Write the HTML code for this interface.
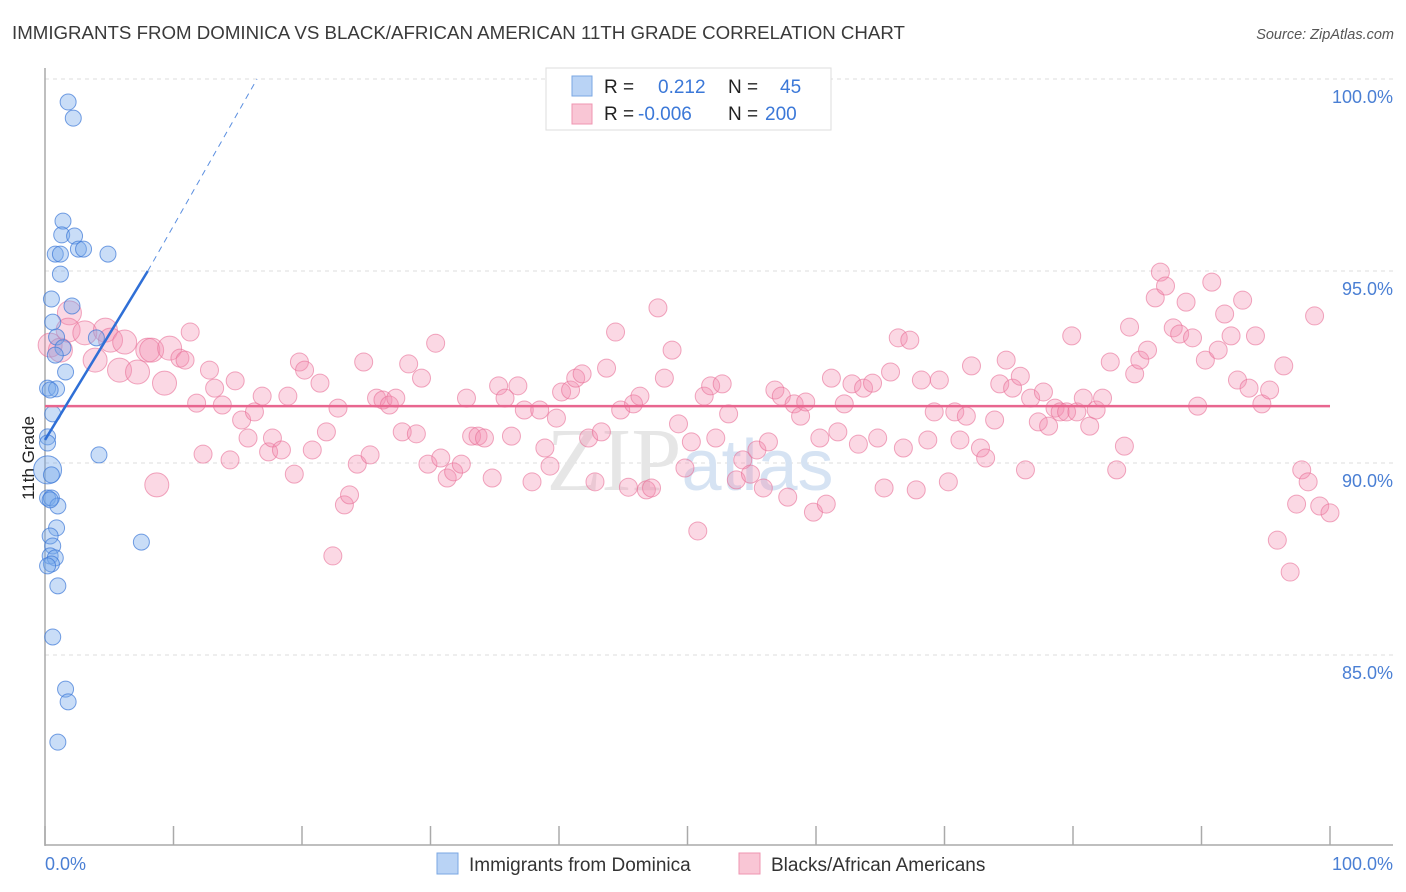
<!DOCTYPE html>
<html><head><meta charset="utf-8"><style>
body{margin:0;background:#fff;font-family:"Liberation Sans",sans-serif;}
#wrap{position:relative;width:1406px;height:892px;overflow:hidden;}
</style></head><body>
<div id="wrap">
<svg id="svg" width="1406" height="892" xmlns="http://www.w3.org/2000/svg">
<text x="12" y="39" font-size="18.7" fill="#3a3a3a">IMMIGRANTS FROM DOMINICA VS BLACK/AFRICAN AMERICAN 11TH GRADE CORRELATION CHART</text>
<text x="1394" y="39" font-size="14.5" fill="#555" text-anchor="end" font-style="italic">Source: ZipAtlas.com</text>
<text x="34" y="458" font-size="17" fill="#222" text-anchor="middle" transform="rotate(-90 34 458)">11th Grade</text>
<g id="grid"></g>
<text x="690" y="490" font-size="90" fill="#e6e6e6" text-anchor="middle" font-family="Liberation Serif,serif">ZIP<tspan fill="#d6e3f3" font-family="Liberation Sans,sans-serif" font-size="72">atlas</tspan></text>
<g id="marks"></g>
<g id="lines"></g>
<g>
<rect x="546" y="68" width="285" height="62" fill="#fff" stroke="#ddd"/>
<rect x="572" y="76" width="20" height="20" fill="#b9d3f5" stroke="#7aa7e3"/>
<rect x="572" y="104" width="20" height="20" fill="#f9c6d5" stroke="#ef95b1"/>
<text x="604" y="93" font-size="19" fill="#222">R = <tspan x="658" fill="#3b78d8">0.212</tspan><tspan x="728" fill="#222">N = </tspan><tspan x="780" fill="#3b78d8">45</tspan></text>
<text x="604" y="120" font-size="19" fill="#222">R = <tspan x="638" fill="#3b78d8">-0.006</tspan><tspan x="728" fill="#222">N = </tspan><tspan x="765" fill="#3b78d8">200</tspan></text>
</g>
<g>
<rect x="437" y="853" width="21" height="21" fill="#b9d3f5" stroke="#7aa7e3"/>
<text x="469" y="871" font-size="19" fill="#333">Immigrants from Dominica</text>
<rect x="739" y="853" width="21" height="21" fill="#f9c6d5" stroke="#ef95b1"/>
<text x="771" y="871" font-size="19" fill="#333">Blacks/African Americans</text>
</g>
<text x="45" y="870" font-size="18" fill="#4a7fd4">0.0%</text>
<text x="1393" y="870" font-size="18" fill="#4a7fd4" text-anchor="end">100.0%</text>
</svg>
</div>
<script>
const yTicks=[100,95,90,85];
const yTickLabels=["100.0%","95.0%","90.0%","85.0%"];
const blueX=[1.8,2.2,1.4,1.3,2.3,2.6,3.0,0.8,1.2,4.9,1.2,0.5,2.1,0.6,0.9,4.0,1.4,0.8,1.6,0.2,0.9,0.4,0.6,0.2,0.2,4.2,0.2,0.5,0.2,0.5,1.0,0.9,0.4,0.6,0.4,0.8,0.5,0.2,1.0,7.5,0.6,1.6,1.8,1.0,0.4];
const blueY=[99.40,98.98,96.30,95.94,95.91,95.57,95.57,95.44,95.44,95.44,94.92,94.27,94.09,93.67,93.28,93.26,93.00,92.81,92.37,91.95,91.93,91.90,91.28,90.68,90.52,90.21,89.82,89.69,89.09,89.09,88.88,88.31,88.10,87.84,87.58,87.53,87.37,87.32,86.80,87.94,85.47,84.11,83.78,82.73,89.04];
const pinkX=[0.4,1.2,1.9,1.8,3.1,3.9,4.7,5.1,5.8,6.2,7.2,8.0,8.3,9.3,9.7,10.5,10.9,11.3,8.7,11.8,12.3,12.8,13.2,13.8,14.4,14.8,15.3,15.8,16.3,16.9,17.4,17.7,18.4,18.9,19.4,19.8,20.2,20.8,21.4,21.9,22.8,23.3,23.7,22.4,24.3,24.8,25.3,25.8,26.3,26.8,27.3,27.8,28.3,28.9,29.3,29.8,30.4,30.8,31.3,31.8,32.4,32.8,33.2,33.7,34.2,34.8,35.3,35.8,36.3,36.8,37.3,37.9,38.5,38.9,39.3,39.8,40.2,40.9,41.3,41.8,42.3,42.8,43.3,43.7,44.4,44.8,45.4,45.8,46.3,46.8,47.2,47.7,48.2,48.8,49.3,49.8,50.3,50.8,51.3,51.8,52.2,52.7,53.2,53.8,54.3,54.9,55.4,55.9,56.3,56.8,57.3,57.8,58.3,58.8,59.2,59.8,60.3,60.8,61.2,61.7,62.2,62.8,63.3,63.7,64.4,64.8,65.3,65.8,66.4,66.8,67.3,67.8,68.2,68.7,69.2,69.6,70.3,70.8,71.2,71.7,72.1,72.8,73.2,73.9,74.3,74.8,75.3,75.9,76.3,76.7,77.3,77.7,78.1,78.6,79.0,79.5,79.9,80.3,80.8,81.3,81.8,82.3,82.9,83.4,84.0,84.4,84.8,85.2,85.8,86.4,86.8,87.2,87.8,88.3,88.8,89.3,89.7,90.3,90.8,91.3,91.8,92.3,92.8,93.2,93.7,94.2,94.7,95.3,95.9,96.4,96.9,97.4,97.8,98.3,98.8,99.2,100];
const pinkY=[93.07,92.94,93.91,93.46,93.39,92.68,93.46,93.20,92.42,93.15,92.37,92.94,92.94,92.08,92.99,92.73,92.68,93.41,89.43,91.56,90.23,92.42,91.95,91.51,90.08,92.14,91.12,90.65,91.33,91.74,90.29,90.65,90.34,91.74,89.71,92.63,92.42,90.34,92.08,90.81,91.43,88.91,89.17,87.58,89.97,92.63,90.21,91.69,91.64,91.51,91.69,90.81,92.58,90.76,92.21,89.97,93.12,90.13,89.61,89.77,89.97,91.69,90.70,90.70,90.65,89.61,92.01,91.69,90.70,92.01,91.38,89.51,91.38,90.39,89.92,91.17,91.85,91.90,92.21,92.32,90.65,89.51,90.81,92.47,93.41,91.38,89.37,91.54,91.74,89.30,89.35,94.04,92.21,92.94,91.02,89.87,90.55,88.23,91.74,92.01,90.65,92.06,91.28,89.56,90.08,89.71,90.34,89.35,90.55,91.90,91.74,89.11,91.54,91.22,91.59,88.72,90.65,88.93,92.21,90.81,91.54,92.06,90.49,91.95,92.08,90.65,89.35,92.37,93.26,90.39,93.20,89.30,92.16,90.60,91.33,92.16,89.51,91.33,90.60,91.22,92.53,90.39,90.13,91.12,92.06,92.68,91.95,92.26,89.82,91.69,91.07,91.85,90.96,91.43,91.33,91.33,93.31,91.33,91.69,90.96,91.38,91.69,92.63,89.82,90.44,93.54,92.32,92.68,92.94,94.30,94.97,94.61,93.52,93.36,94.19,93.26,91.48,92.68,94.71,92.94,93.88,93.31,92.16,94.24,91.95,93.31,91.54,91.90,87.99,92.53,87.16,88.93,89.82,89.51,93.83,88.88,88.7];
const trendBlue=[[0,90.6],[8,95.0],[16.5,100]];
const trendPinkY=91.48;

const NS="http://www.w3.org/2000/svg";
const X=v=>45+v*12.85;
const Y=v=>79+(100-v)*38.4;
function mk(tag,attrs,parent){const e=document.createElementNS(NS,tag);for(const k in attrs)e.setAttribute(k,attrs[k]);parent.appendChild(e);return e;}
const grid=document.getElementById('grid'),marks=document.getElementById('marks'),lines=document.getElementById('lines');
yTicks.forEach((t,i)=>{
  const l=mk('line',{x1:45,x2:1393,y1:Y(t),y2:Y(t),stroke:'#dcdcdc','stroke-dasharray':'4 4'},grid);
  
  
  const tx=mk('text',{x:1393,y:Y(t)+24,'font-size':18,fill:'#4a7fd4','text-anchor':'end'},grid);
  tx.textContent=yTickLabels[i];
  
  
});
const ax=mk('line',{x1:45,x2:45,y1:68,y2:846,stroke:'#aaa','stroke-width':1.5},grid);


const bx=mk('line',{x1:45,x2:1393,y1:845,y2:845,stroke:'#aaa','stroke-width':1.5},grid);


for(let i=0;i<=10;i++){
  const t=mk('line',{x1:X(i*10),x2:X(i*10),y1:826,y2:845,stroke:'#aaa','stroke-width':1.5},grid);
  
  
}
const n=Math.min(pinkX.length,pinkY.length);
for(let i=0;i<n;i++){
  const x=pinkX[i];
  const c=mk('circle',{cx:X(x),cy:Y(pinkY[i]),r:x<10?12:9,fill:'rgba(244,143,177,0.35)',stroke:'rgba(232,110,150,0.6)','stroke-width':1},marks);
  
  
}
blueX.forEach((x,i)=>{
  const c=mk('circle',{cx:X(x),cy:Y(blueY[i]),r:blueY[i]>89.7&&blueY[i]<89.9?14:8,fill:'rgba(120,170,235,0.4)',stroke:'rgba(60,120,215,0.7)','stroke-width':1},marks);
  
  
});
const pl=mk('line',{x1:X(0),x2:X(100),y1:Y(trendPinkY),y2:Y(trendPinkY),stroke:'#e8668f','stroke-width':2.5},lines);


const b1=mk('line',{x1:X(trendBlue[0][0]),y1:Y(trendBlue[0][1]),x2:X(trendBlue[1][0]),y2:Y(trendBlue[1][1]),stroke:'#2f6fd6','stroke-width':2.5},lines);


const b2=mk('line',{x1:X(trendBlue[1][0]),y1:Y(trendBlue[1][1]),x2:X(trendBlue[2][0]),y2:Y(trendBlue[2][1]),stroke:'#5b8fe0','stroke-width':1,'stroke-dasharray':'6 5'},lines);


</script>
</body></html>
